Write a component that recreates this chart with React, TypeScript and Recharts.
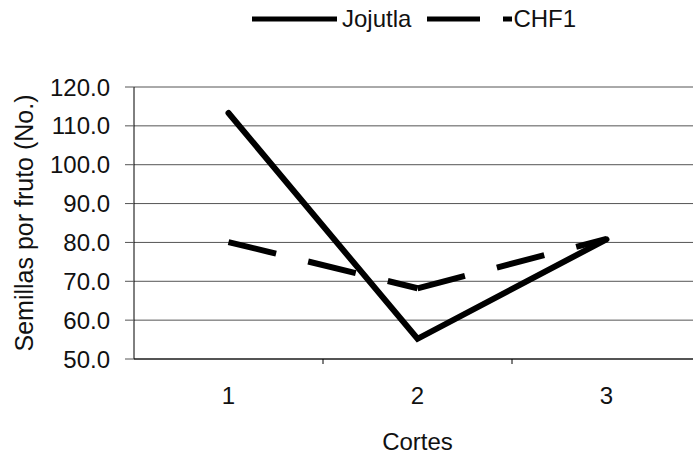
import React from "react";
import {
  LineChart,
  Line,
  XAxis,
  YAxis,
  CartesianGrid,
  Legend,
  Label,
} from "recharts";

const cortes = [1, 2, 3];
const jojutla = [113.3, 55.2, 80.8];
const chf1 = [80.1, 68.2, 80.9];
const yTicks = [50, 60, 70, 80, 90, 100, 110, 120];
const xMarks = [1, 1.5, 2, 2.5, 3];

const FONT = "'Liberation Sans', Arial, sans-serif";

// Excel restarts the dash pattern on every segment, so CHF1 is split into one series per segment
const chartData = cortes.map((c, i) => {
  const row: Record<string, number | null> = { corte: c, jojutla: jojutla[i] };
  for (let s = 0; s < cortes.length - 1; s++) {
    row[`chf1_${s}`] = i === s || i === s + 1 ? chf1[i] : null;
  }
  return row;
});
const chfSegments = cortes.slice(0, -1).map((_, s) => `chf1_${s}`);

function XTick({ x, y, payload }: any) {
  if (payload.value % 1 !== 0) {
    return <line x1={x} x2={x} y1={y} y2={y + 5} stroke="#000" strokeWidth={1} />;
  }
  return (
    <text
      x={x}
      y={y + 36}
      textAnchor="middle"
      dominantBaseline="central"
      fontSize={24}
      fontFamily={FONT}
      fill="#111"
    >
      {payload.value}
    </text>
  );
}

function LegendBox() {
  return (
    <div
      style={{
        position: "absolute",
        left: 252,
        top: 2,
        display: "flex",
        alignItems: "center",
        height: 34,
        fontFamily: FONT,
        fontSize: 24,
        color: "#111",
        whiteSpace: "nowrap",
      }}
    >
      <svg width={85} height={10}>
        <line x1={0} x2={85} y1={5} y2={5} stroke="#000" strokeWidth={5} />
      </svg>
      <span style={{ marginLeft: 5 }}>Jojutla</span>
      <svg width={85} height={10} style={{ marginLeft: 16 }}>
        <line x1={0} x2={85} y1={5} y2={5} stroke="#000" strokeWidth={5} strokeDasharray="53 23" />
      </svg>
      <span style={{ marginLeft: 1 }}>CHF1</span>
    </div>
  );
}

export default function App() {
  return (
    <div style={{ position: "absolute", left: 0, top: 0, width: 693, height: 454, overflow: "hidden", background: "#fff" }}>
      <LineChart
        width={720}
        height={454}
        data={chartData}
        margin={{ top: 87, right: 19, left: 0, bottom: 0 }}
      >
        <CartesianGrid vertical={false} stroke="#555" strokeWidth={1} />
        <XAxis
          dataKey="corte"
          type="number"
          domain={[0.5, 3.5]}
          ticks={xMarks}
          interval={0}
          height={95}
          tickSize={0}
          tickMargin={0}
          tickLine={false}
          axisLine={{ stroke: "#000" }}
          tick={<XTick />}
        >
          <Label
            value="Cortes"
            position="insideBottom"
            offset={4}
            style={{ fontSize: 24, fontFamily: FONT, fill: "#111" }}
          />
        </XAxis>
        <YAxis
          width={134}
          domain={[50, 120]}
          ticks={yTicks}
          interval={0}
          tickSize={9}
          tickMargin={15}
          tickLine={{ stroke: "#555" }}
          axisLine={{ stroke: "#000" }}
          tickFormatter={(v: number) => v.toFixed(1)}
          tick={{ fontSize: 24, fontFamily: FONT, fill: "#111" }}
        >
          <Label
            content={({ viewBox }: any) => {
              const cy = viewBox.y + viewBox.height / 2;
              return (
                <text
                  x={24}
                  y={cy}
                  transform={`rotate(-90, 24, ${cy})`}
                  textAnchor="middle"
                  dominantBaseline="central"
                  fontSize={25}
                  fontFamily={FONT}
                  fill="#111"
                >
                  Semillas por fruto (No.)
                </text>
              );
            }}
          />
        </YAxis>
        <Legend
          verticalAlign="top"
          content={() => <LegendBox />}
          wrapperStyle={{ top: 0, left: 0, width: 693, height: 0 }}
        />
        <Line
          dataKey="jojutla"
          name="Jojutla"
          type="linear"
          stroke="#000"
          strokeWidth={6}
          strokeLinecap="round"
          dot={false}
          activeDot={false}
          isAnimationActive={false}
        />
        {chfSegments.map((key) => (
          <Line
            key={key}
            dataKey={key}
            name="CHF1"
            type="linear"
            stroke="#000"
            strokeWidth={6}
            strokeDasharray="49 33"
            dot={false}
            activeDot={false}
            connectNulls={false}
            isAnimationActive={false}
            legendType="none"
          />
        ))}
      </LineChart>
    </div>
  );
}
